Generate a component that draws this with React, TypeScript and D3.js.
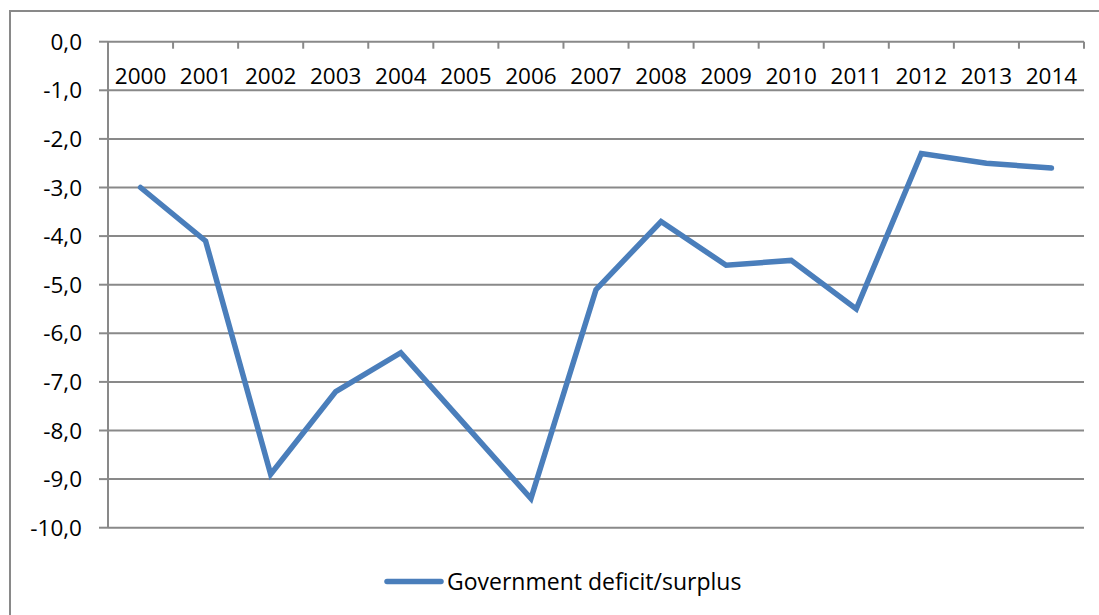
import React from "react";
import * as d3 from "d3";

const years = ["2000","2001","2002","2003","2004","2005","2006","2007","2008","2009","2010","2011","2012","2013","2014"];
const deficit = [-3.0, -4.1, -8.9, -7.2, -6.4, -7.9, -9.4, -5.1, -3.7, -4.6, -4.5, -5.5, -2.3, -2.5, -2.6];
const yTicks = [0, -1, -2, -3, -4, -5, -6, -7, -8, -9, -10];
const seriesName = "Government deficit/surplus";

const W = 1099, H = 615;
const plot = { left: 108, right: 1084, top: 41.7, bottom: 527.7 };
const FONT = "'Open Sans', 'Liberation Sans', sans-serif";
const GRID = "#898989";
const BLUE = "#4a7ebb";

export default function App() {
  const x = d3.scaleBand<string>().domain(years).range([plot.left, plot.right]).paddingInner(0).paddingOuter(0);
  const y = d3.scaleLinear().domain([-10, 0]).range([plot.bottom, plot.top]);
  const line = d3.line<number>()
    .x((_, i) => (x(years[i]) as number) + x.bandwidth() / 2)
    .y((d) => y(d));
  const fmt = (v: number) => v.toFixed(1).replace(".", ",");
  const boundaries = years.map((yr) => x(yr) as number).concat([plot.right]);

  return (
    <svg width={W} height={H} style={{ position: "absolute", left: 0, top: 0, background: "#fff" }} fontFamily={FONT}>
      <rect x={0} y={0} width={W} height={H} fill="#fff" />
      <rect x={10} y={11} width={W + 20} height={H + 20} fill="none" stroke={GRID} strokeWidth={2} />
      {yTicks.filter((t) => t !== 0).map((t) => (
        <line key={"g" + t} x1={plot.left} x2={plot.right} y1={y(t)} y2={y(t)} stroke={GRID} strokeWidth={2} />
      ))}
      {yTicks.map((t) => (
        <g key={"yt" + t}>
          <line x1={plot.left - 9} x2={plot.left} y1={y(t)} y2={y(t)} stroke={GRID} strokeWidth={2} />
          <text x={82} y={y(t)} dy="0.36em" textAnchor="end" fontSize={22.5} fill="#000">{fmt(t)}</text>
        </g>
      ))}
      <line x1={plot.left} x2={plot.left} y1={plot.top} y2={plot.bottom} stroke={GRID} strokeWidth={2} />
      <line x1={plot.left} x2={plot.right} y1={y(0)} y2={y(0)} stroke={GRID} strokeWidth={2} />
      {boundaries.map((bx, i) => (
        <line key={"xt" + i} x1={bx} x2={bx} y1={y(0)} y2={y(0) + 7} stroke={GRID} strokeWidth={2} />
      ))}
      {years.map((yr) => (
        <text key={yr} x={(x(yr) as number) + x.bandwidth() / 2} y={75.5} dy="0.36em" textAnchor="middle" fontSize={22.5} fill="#000">{yr}</text>
      ))}
      <path d={line(deficit) || ""} fill="none" stroke={BLUE} strokeWidth={5.5} strokeLinejoin="miter" strokeLinecap="round" />
      <line x1={387} x2={441} y1={581.5} y2={581.5} stroke={BLUE} strokeWidth={5.5} strokeLinecap="round" />
      <text x={447} y={581.5} dy="0.36em" fontSize={23} fill="#000">{seriesName}</text>
    </svg>
  );
}
